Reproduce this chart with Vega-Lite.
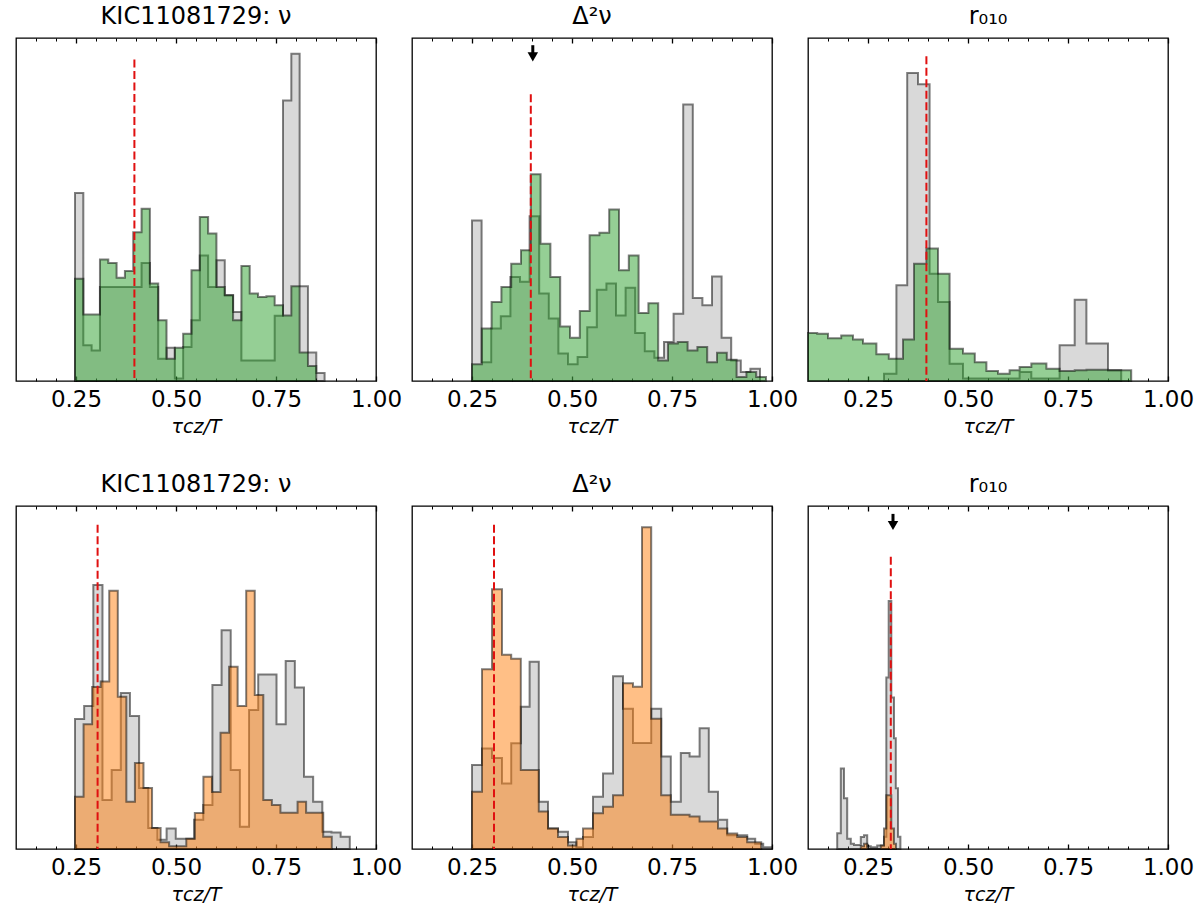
{
  "$schema": "https://vega.github.io/schema/vega-lite/v6.json",
  "description": "Step histograms of tau_cz/T for KIC11081729 with three observables, two rows",
  "padding": {"left": 15, "top": 4, "right": 10, "bottom": 2},
  "data": {
    "values": [
      {"p":1,"s":"ref","x":0.2475,"y":0.548},{"p":1,"s":"ref","x":0.2683,"y":0.104},{"p":1,"s":"ref","x":0.2891,"y":0.089},
      {"p":1,"s":"ref","x":0.3099,"y":0.274},{"p":1,"s":"ref","x":0.3307,"y":0.274},{"p":1,"s":"ref","x":0.3515,"y":0.274},
      {"p":1,"s":"ref","x":0.3723,"y":0.274},{"p":1,"s":"ref","x":0.3931,"y":0.274},{"p":1,"s":"ref","x":0.4139,"y":0.344},
      {"p":1,"s":"ref","x":0.4347,"y":0.274},{"p":1,"s":"ref","x":0.4555,"y":0.065},{"p":1,"s":"ref","x":0.4763,"y":0.097},
      {"p":1,"s":"ref","x":0.4971,"y":0.007},{"p":1,"s":"ref","x":0.5179,"y":0.099},{"p":1,"s":"ref","x":0.5387,"y":0.177},
      {"p":1,"s":"ref","x":0.5595,"y":0.366},{"p":1,"s":"ref","x":0.5803,"y":0.274},{"p":1,"s":"ref","x":0.6011,"y":0.352},
      {"p":1,"s":"ref","x":0.6219,"y":0.250},{"p":1,"s":"ref","x":0.6427,"y":0.201},{"p":1,"s":"ref","x":0.6635,"y":0.060},
      {"p":1,"s":"ref","x":0.6843,"y":0.060},{"p":1,"s":"ref","x":0.7051,"y":0.060},{"p":1,"s":"ref","x":0.7259,"y":0.060},
      {"p":1,"s":"ref","x":0.7467,"y":0.190},{"p":1,"s":"ref","x":0.7675,"y":0.818},{"p":1,"s":"ref","x":0.7883,"y":0.954},
      {"p":1,"s":"ref","x":0.8091,"y":0.276},{"p":1,"s":"ref","x":0.8299,"y":0.083},{"p":1,"s":"ref","x":0.8507,"y":0.023},
      {"p":1,"s":"ref","x":0.8715,"y":0},

      {"p":1,"s":"green","x":0.2475,"y":0.298},{"p":1,"s":"green","x":0.2683,"y":0.194},{"p":1,"s":"green","x":0.2891,"y":0.194},
      {"p":1,"s":"green","x":0.3099,"y":0.354},{"p":1,"s":"green","x":0.3307,"y":0.344},{"p":1,"s":"green","x":0.3515,"y":0.301},
      {"p":1,"s":"green","x":0.3723,"y":0.321},{"p":1,"s":"green","x":0.3931,"y":0.434},{"p":1,"s":"green","x":0.4139,"y":0.502},
      {"p":1,"s":"green","x":0.4347,"y":0.284},{"p":1,"s":"green","x":0.4555,"y":0.177},{"p":1,"s":"green","x":0.4763,"y":0.065},
      {"p":1,"s":"green","x":0.4971,"y":0.097},{"p":1,"s":"green","x":0.5179,"y":0.138},{"p":1,"s":"green","x":0.5387,"y":0.323},
      {"p":1,"s":"green","x":0.5595,"y":0.478},{"p":1,"s":"green","x":0.5803,"y":0.430},{"p":1,"s":"green","x":0.6011,"y":0.274},
      {"p":1,"s":"green","x":0.6219,"y":0.250},{"p":1,"s":"green","x":0.6427,"y":0.177},{"p":1,"s":"green","x":0.6635,"y":0.335},
      {"p":1,"s":"green","x":0.6843,"y":0.255},{"p":1,"s":"green","x":0.7051,"y":0.245},{"p":1,"s":"green","x":0.7259,"y":0.247},
      {"p":1,"s":"green","x":0.7467,"y":0.221},{"p":1,"s":"green","x":0.7675,"y":0.191},{"p":1,"s":"green","x":0.7883,"y":0.276},
      {"p":1,"s":"green","x":0.8091,"y":0.083},{"p":1,"s":"green","x":0.8299,"y":0.044},{"p":1,"s":"green","x":0.8507,"y":0},

      {"p":2,"s":"ref","x":0.250,"y":0.468},{"p":2,"s":"ref","x":0.274,"y":0.055},{"p":2,"s":"ref","x":0.298,"y":0.153},
      {"p":2,"s":"ref","x":0.322,"y":0.189},{"p":2,"s":"ref","x":0.346,"y":0.303},{"p":2,"s":"ref","x":0.370,"y":0.289},
      {"p":2,"s":"ref","x":0.394,"y":0.480},{"p":2,"s":"ref","x":0.418,"y":0.255},{"p":2,"s":"ref","x":0.442,"y":0.182},
      {"p":2,"s":"ref","x":0.466,"y":0.080},{"p":2,"s":"ref","x":0.490,"y":0.049},{"p":2,"s":"ref","x":0.514,"y":0.070},
      {"p":2,"s":"ref","x":0.538,"y":0.157},{"p":2,"s":"ref","x":0.562,"y":0.266},{"p":2,"s":"ref","x":0.586,"y":0.284},
      {"p":2,"s":"ref","x":0.610,"y":0.191},{"p":2,"s":"ref","x":0.634,"y":0.272},{"p":2,"s":"ref","x":0.658,"y":0.140},
      {"p":2,"s":"ref","x":0.682,"y":0.087},{"p":2,"s":"ref","x":0.706,"y":0.068},{"p":2,"s":"ref","x":0.730,"y":0.114},
      {"p":2,"s":"ref","x":0.754,"y":0.196},{"p":2,"s":"ref","x":0.778,"y":0.806},{"p":2,"s":"ref","x":0.802,"y":0.242},
      {"p":2,"s":"ref","x":0.826,"y":0.221},{"p":2,"s":"ref","x":0.850,"y":0.305},{"p":2,"s":"ref","x":0.874,"y":0.126},
      {"p":2,"s":"ref","x":0.898,"y":0.060},{"p":2,"s":"ref","x":0.922,"y":0.026},{"p":2,"s":"ref","x":0.946,"y":0.036},
      {"p":2,"s":"ref","x":0.970,"y":0},

      {"p":2,"s":"green","x":0.2500,"y":0.049},{"p":2,"s":"green","x":0.2745,"y":0.153},{"p":2,"s":"green","x":0.2990,"y":0.230},
      {"p":2,"s":"green","x":0.3235,"y":0.274},{"p":2,"s":"green","x":0.3480,"y":0.342},{"p":2,"s":"green","x":0.3725,"y":0.381},
      {"p":2,"s":"green","x":0.3970,"y":0.603},{"p":2,"s":"green","x":0.4215,"y":0.400},{"p":2,"s":"green","x":0.4460,"y":0.303},
      {"p":2,"s":"green","x":0.4705,"y":0.159},{"p":2,"s":"green","x":0.4950,"y":0.126},{"p":2,"s":"green","x":0.5195,"y":0.204},
      {"p":2,"s":"green","x":0.5440,"y":0.425},{"p":2,"s":"green","x":0.5685,"y":0.432},{"p":2,"s":"green","x":0.5930,"y":0.500},
      {"p":2,"s":"green","x":0.6175,"y":0.323},{"p":2,"s":"green","x":0.6420,"y":0.366},{"p":2,"s":"green","x":0.6665,"y":0.198},
      {"p":2,"s":"green","x":0.6910,"y":0.227},{"p":2,"s":"green","x":0.7155,"y":0.060},{"p":2,"s":"green","x":0.7400,"y":0.109},
      {"p":2,"s":"green","x":0.7645,"y":0.114},{"p":2,"s":"green","x":0.7890,"y":0.089},{"p":2,"s":"green","x":0.8135,"y":0.099},
      {"p":2,"s":"green","x":0.8380,"y":0.055},{"p":2,"s":"green","x":0.8625,"y":0.082},{"p":2,"s":"green","x":0.8870,"y":0.062},
      {"p":2,"s":"green","x":0.9115,"y":0.012},{"p":2,"s":"green","x":0.9360,"y":0.026},{"p":2,"s":"green","x":0.9605,"y":0.012},
      {"p":2,"s":"green","x":0.9850,"y":0},

      {"p":3,"s":"ref","x":0.290,"y":0.021},{"p":3,"s":"ref","x":0.321,"y":0.279},{"p":3,"s":"ref","x":0.348,"y":0.898},
      {"p":3,"s":"ref","x":0.375,"y":0.865},{"p":3,"s":"ref","x":0.404,"y":0.313},{"p":3,"s":"ref","x":0.425,"y":0.230},
      {"p":3,"s":"ref","x":0.454,"y":0.050},{"p":3,"s":"ref","x":0.4875,"y":0.007},{"p":3,"s":"ref","x":0.629,"y":0.026},
      {"p":3,"s":"ref","x":0.6583,"y":0.007},{"p":3,"s":"ref","x":0.729,"y":0.104},{"p":3,"s":"ref","x":0.7667,"y":0.237},
      {"p":3,"s":"ref","x":0.796,"y":0.109},{"p":3,"s":"ref","x":0.850,"y":0.031},{"p":3,"s":"ref","x":0.883,"y":0},

      {"p":3,"s":"green","x":0.100,"y":0.140},{"p":3,"s":"green","x":0.123,"y":0.138},{"p":3,"s":"green","x":0.150,"y":0.125},
      {"p":3,"s":"green","x":0.183,"y":0.133},{"p":3,"s":"green","x":0.2125,"y":0.121},{"p":3,"s":"green","x":0.2375,"y":0.109},
      {"p":3,"s":"green","x":0.271,"y":0.078},{"p":3,"s":"green","x":0.302,"y":0.065},{"p":3,"s":"green","x":0.3375,"y":0.121},
      {"p":3,"s":"green","x":0.365,"y":0.342},{"p":3,"s":"green","x":0.396,"y":0.386},{"p":3,"s":"green","x":0.425,"y":0.313},
      {"p":3,"s":"green","x":0.454,"y":0.094},{"p":3,"s":"green","x":0.4875,"y":0.080},{"p":3,"s":"green","x":0.517,"y":0.055},
      {"p":3,"s":"green","x":0.546,"y":0.029},{"p":3,"s":"green","x":0.575,"y":0.021},{"p":3,"s":"green","x":0.604,"y":0.031},
      {"p":3,"s":"green","x":0.629,"y":0.041},{"p":3,"s":"green","x":0.6583,"y":0.051},{"p":3,"s":"green","x":0.696,"y":0.036},
      {"p":3,"s":"green","x":0.729,"y":0.029},{"p":3,"s":"green","x":0.7667,"y":0.031},{"p":3,"s":"green","x":0.796,"y":0.033},
      {"p":3,"s":"green","x":0.850,"y":0.031},{"p":3,"s":"green","x":0.908,"y":0},

      {"p":4,"s":"ref","x":0.2475,"y":0.379},{"p":4,"s":"ref","x":0.2704,"y":0.417},{"p":4,"s":"ref","x":0.2933,"y":0.770},
      {"p":4,"s":"ref","x":0.3162,"y":0.143},{"p":4,"s":"ref","x":0.3391,"y":0.230},{"p":4,"s":"ref","x":0.3620,"y":0.455},
      {"p":4,"s":"ref","x":0.3849,"y":0.388},{"p":4,"s":"ref","x":0.4078,"y":0.178},{"p":4,"s":"ref","x":0.4307,"y":0.061},
      {"p":4,"s":"ref","x":0.4536,"y":0.027},{"p":4,"s":"ref","x":0.4765,"y":0.060},{"p":4,"s":"ref","x":0.4994,"y":0.030},
      {"p":4,"s":"ref","x":0.5223,"y":0.030},{"p":4,"s":"ref","x":0.5452,"y":0.085},{"p":4,"s":"ref","x":0.5681,"y":0.128},
      {"p":4,"s":"ref","x":0.5910,"y":0.478},{"p":4,"s":"ref","x":0.6139,"y":0.638},{"p":4,"s":"ref","x":0.6368,"y":0.230},
      {"p":4,"s":"ref","x":0.6597,"y":0.065},{"p":4,"s":"ref","x":0.6826,"y":0.405},{"p":4,"s":"ref","x":0.7055,"y":0.509},
      {"p":4,"s":"ref","x":0.7284,"y":0.509},{"p":4,"s":"ref","x":0.7513,"y":0.364},{"p":4,"s":"ref","x":0.7742,"y":0.548},
      {"p":4,"s":"ref","x":0.7971,"y":0.471},{"p":4,"s":"ref","x":0.8200,"y":0.211},{"p":4,"s":"ref","x":0.8429,"y":0.138},
      {"p":4,"s":"ref","x":0.8658,"y":0.050},{"p":4,"s":"ref","x":0.8887,"y":0.048},{"p":4,"s":"ref","x":0.9116,"y":0.036},
      {"p":4,"s":"ref","x":0.9345,"y":0},

      {"p":4,"s":"orange","x":0.2475,"y":0.152},{"p":4,"s":"orange","x":0.2689,"y":0.364},{"p":4,"s":"orange","x":0.2903,"y":0.472},
      {"p":4,"s":"orange","x":0.3117,"y":0.488},{"p":4,"s":"orange","x":0.3331,"y":0.753},{"p":4,"s":"orange","x":0.3545,"y":0.444},
      {"p":4,"s":"orange","x":0.3759,"y":0.138},{"p":4,"s":"orange","x":0.3973,"y":0.251},{"p":4,"s":"orange","x":0.4187,"y":0.178},
      {"p":4,"s":"orange","x":0.4401,"y":0.061},{"p":4,"s":"orange","x":0.4615,"y":0.020},{"p":4,"s":"orange","x":0.4829,"y":0.008},
      {"p":4,"s":"orange","x":0.5043,"y":0.008},{"p":4,"s":"orange","x":0.5257,"y":0.030},{"p":4,"s":"orange","x":0.5471,"y":0.105},
      {"p":4,"s":"orange","x":0.5685,"y":0.211},{"p":4,"s":"orange","x":0.5899,"y":0.166},{"p":4,"s":"orange","x":0.6113,"y":0.339},
      {"p":4,"s":"orange","x":0.6327,"y":0.531},{"p":4,"s":"orange","x":0.6541,"y":0.417},{"p":4,"s":"orange","x":0.6755,"y":0.753},
      {"p":4,"s":"orange","x":0.6969,"y":0.449},{"p":4,"s":"orange","x":0.7183,"y":0.143},{"p":4,"s":"orange","x":0.7397,"y":0.128},
      {"p":4,"s":"orange","x":0.7611,"y":0.106},{"p":4,"s":"orange","x":0.7825,"y":0.106},{"p":4,"s":"orange","x":0.8039,"y":0.138},
      {"p":4,"s":"orange","x":0.8253,"y":0.106},{"p":4,"s":"orange","x":0.8467,"y":0.106},{"p":4,"s":"orange","x":0.8681,"y":0.036},
      {"p":4,"s":"orange","x":0.8895,"y":0},

      {"p":5,"s":"ref","x":0.250,"y":0.245},{"p":5,"s":"ref","x":0.275,"y":0.293},{"p":5,"s":"ref","x":0.300,"y":0.265},
      {"p":5,"s":"ref","x":0.325,"y":0.191},{"p":5,"s":"ref","x":0.348,"y":0.308},{"p":5,"s":"ref","x":0.372,"y":0.415},
      {"p":5,"s":"ref","x":0.394,"y":0.546},{"p":5,"s":"ref","x":0.417,"y":0.138},{"p":5,"s":"ref","x":0.440,"y":0.060},
      {"p":5,"s":"ref","x":0.465,"y":0.050},{"p":5,"s":"ref","x":0.490,"y":0.020},{"p":5,"s":"ref","x":0.511,"y":0.005},
      {"p":5,"s":"ref","x":0.5275,"y":0.035},{"p":5,"s":"ref","x":0.5525,"y":0.152},{"p":5,"s":"ref","x":0.5775,"y":0.220},
      {"p":5,"s":"ref","x":0.6025,"y":0.504},{"p":5,"s":"ref","x":0.6275,"y":0.409},{"p":5,"s":"ref","x":0.6525,"y":0.309},
      {"p":5,"s":"ref","x":0.675,"y":0.309},{"p":5,"s":"ref","x":0.698,"y":0.409},{"p":5,"s":"ref","x":0.723,"y":0.270},
      {"p":5,"s":"ref","x":0.747,"y":0.138},{"p":5,"s":"ref","x":0.772,"y":0.280},{"p":5,"s":"ref","x":0.794,"y":0.270},
      {"p":5,"s":"ref","x":0.819,"y":0.352},{"p":5,"s":"ref","x":0.842,"y":0.167},{"p":5,"s":"ref","x":0.865,"y":0.085},
      {"p":5,"s":"ref","x":0.888,"y":0.040},{"p":5,"s":"ref","x":0.913,"y":0.040},{"p":5,"s":"ref","x":0.938,"y":0.030},
      {"p":5,"s":"ref","x":0.958,"y":0.015},{"p":5,"s":"ref","x":0.978,"y":0.005},{"p":5,"s":"ref","x":0.998,"y":0},

      {"p":5,"s":"orange","x":0.250,"y":0.167},{"p":5,"s":"orange","x":0.275,"y":0.524},{"p":5,"s":"orange","x":0.300,"y":0.757},
      {"p":5,"s":"orange","x":0.325,"y":0.566},{"p":5,"s":"orange","x":0.348,"y":0.555},{"p":5,"s":"orange","x":0.372,"y":0.230},
      {"p":5,"s":"orange","x":0.394,"y":0.230},{"p":5,"s":"orange","x":0.417,"y":0.109},{"p":5,"s":"orange","x":0.440,"y":0.060},
      {"p":5,"s":"orange","x":0.465,"y":0.035},{"p":5,"s":"orange","x":0.490,"y":0.010},{"p":5,"s":"orange","x":0.511,"y":0.030},
      {"p":5,"s":"orange","x":0.5275,"y":0.060},{"p":5,"s":"orange","x":0.5525,"y":0.104},{"p":5,"s":"orange","x":0.5775,"y":0.123},
      {"p":5,"s":"orange","x":0.6025,"y":0.157},{"p":5,"s":"orange","x":0.6275,"y":0.483},{"p":5,"s":"orange","x":0.6525,"y":0.473},
      {"p":5,"s":"orange","x":0.675,"y":0.938},{"p":5,"s":"orange","x":0.698,"y":0.380},{"p":5,"s":"orange","x":0.723,"y":0.157},
      {"p":5,"s":"orange","x":0.747,"y":0.100},{"p":5,"s":"orange","x":0.772,"y":0.100},{"p":5,"s":"orange","x":0.794,"y":0.095},
      {"p":5,"s":"orange","x":0.819,"y":0.080},{"p":5,"s":"orange","x":0.842,"y":0.080},{"p":5,"s":"orange","x":0.865,"y":0.060},
      {"p":5,"s":"orange","x":0.888,"y":0.045},{"p":5,"s":"orange","x":0.913,"y":0.035},{"p":5,"s":"orange","x":0.938,"y":0.020},
      {"p":5,"s":"orange","x":0.973,"y":0},

      {"p":6,"s":"ref","x":0.173,"y":0.046},{"p":6,"s":"ref","x":0.182,"y":0.235},{"p":6,"s":"ref","x":0.190,"y":0.148},
      {"p":6,"s":"ref","x":0.198,"y":0.030},{"p":6,"s":"ref","x":0.207,"y":0.015},{"p":6,"s":"ref","x":0.215,"y":0.012},
      {"p":6,"s":"ref","x":0.223,"y":0.012},{"p":6,"s":"ref","x":0.232,"y":0.035},{"p":6,"s":"ref","x":0.240,"y":0.040},
      {"p":6,"s":"ref","x":0.248,"y":0.008},{"p":6,"s":"ref","x":0.257,"y":0.005},{"p":6,"s":"ref","x":0.265,"y":0.005},
      {"p":6,"s":"ref","x":0.273,"y":0.010},{"p":6,"s":"ref","x":0.282,"y":0.010},{"p":6,"s":"ref","x":0.290,"y":0.036},
      {"p":6,"s":"ref","x":0.2958,"y":0.500},{"p":6,"s":"ref","x":0.3017,"y":0.723},{"p":6,"s":"ref","x":0.3083,"y":0.442},
      {"p":6,"s":"ref","x":0.315,"y":0.323},{"p":6,"s":"ref","x":0.3195,"y":0.177},{"p":6,"s":"ref","x":0.325,"y":0.036},
      {"p":6,"s":"ref","x":0.331,"y":0},

      {"p":6,"s":"orange","x":0.232,"y":0.008},{"p":6,"s":"orange","x":0.240,"y":0.015},{"p":6,"s":"orange","x":0.248,"y":0},
      {"p":6,"s":"orange","x":0.282,"y":0.010},{"p":6,"s":"orange","x":0.290,"y":0.060},{"p":6,"s":"orange","x":0.2958,"y":0.157},
      {"p":6,"s":"orange","x":0.3017,"y":0.157},{"p":6,"s":"orange","x":0.3083,"y":0.060},{"p":6,"s":"orange","x":0.315,"y":0.015},
      {"p":6,"s":"orange","x":0.320,"y":0},

      {"p":1,"s":"vline","x":0.396,"y":0.937},
      {"p":2,"s":"vline","x":0.397,"y":0.836},
      {"p":3,"s":"vline","x":0.396,"y":0.947},
      {"p":4,"s":"vline","x":0.304,"y":0.945},
      {"p":5,"s":"vline","x":0.305,"y":0.945},
      {"p":6,"s":"vline","x":0.307,"y":0.852},

      {"p":2,"s":"arrow","x":0.402,"y":0.979,"y2":0.945},
      {"p":6,"s":"arrow","x":0.3125,"y":0.977,"y2":0.943}
    ]
  },
  "facet": {
    "field": "p",
    "type": "ordinal",
    "title": null,
    "header": {
      "labelExpr": "datum.value == 1 || datum.value == 4 ? 'KIC11081729: ν' : (datum.value == 2 || datum.value == 5 ? 'Δ²ν' : 'r₀₁₀')",
      "labelFont": "DejaVu Sans",
      "labelFontSize": 24,
      "labelColor": "black",
      "labelPadding": 8
    }
  },
  "columns": 3,
  "bounds": "flush",
  "spacing": {"row": 125, "column": 36},
  "resolve": {"axis": {"x": "independent"}},
  "spec": {
    "width": 360,
    "height": 343,
    "layer": [
      {
        "transform": [{"filter": "datum.s == 'ref'"}],
        "mark": {"type": "area", "interpolate": "step-after", "fill": "#808080", "fillOpacity": 0.3, "stroke": "black", "strokeOpacity": 0.5, "strokeWidth": 2},
        "encoding": {
          "x": {
            "field": "x", "type": "quantitative",
            "scale": {"domain": [0.1, 1.0], "nice": false, "zero": false},
            "axis": {
              "orient": "bottom", "values": [0.25, 0.5, 0.75, 1.0], "format": ".2f",
              "tickSize": -5, "tickWidth": 1.3, "tickColor": "black",
              "labelFont": "DejaVu Sans", "labelFontSize": 23, "labelColor": "black",
              "labelPadding": 12, "labelFlush": false, "labelOverlap": false, "labelBound": false,
              "title": "τcz/T", "titleFont": "DejaVu Sans", "titleFontSize": 19, "titleFontStyle": "italic",
              "titleFontWeight": "normal", "titleColor": "black", "titlePadding": 6,
              "domain": false, "grid": false
            }
          },
          "y": {"field": "y", "type": "quantitative", "scale": {"domain": [0, 1], "nice": false}, "axis": null}
        }
      },
      {
        "transform": [{"filter": "datum.s == 'green' || datum.s == 'orange'"}],
        "mark": {"type": "area", "interpolate": "step-after", "fillOpacity": 0.5, "stroke": "black", "strokeOpacity": 0.5, "strokeWidth": 2},
        "encoding": {
          "x": {
            "field": "x", "type": "quantitative",
            "axis": {"orient": "top", "values": [0.25, 0.5, 0.75, 1.0], "labels": false, "tickSize": -5, "tickWidth": 1.3, "tickColor": "black", "title": null, "domain": false, "grid": false}
          },
          "y": {"field": "y", "type": "quantitative"},
          "fill": {"field": "s", "type": "nominal", "scale": {"domain": ["green", "orange"], "range": ["#2ca02c", "#ff7f0e"]}, "legend": null}
        }
      },
      {
        "transform": [{"filter": "datum.s == 'vline'"}],
        "mark": {"type": "rule", "color": "#e01010", "strokeWidth": 2, "strokeDash": [8, 3.5]},
        "encoding": {
          "x": {
            "field": "x", "type": "quantitative",
            "axis": {"orient": "bottom", "values": [0.15, 0.2, 0.3, 0.35, 0.4, 0.45, 0.55, 0.6, 0.65, 0.7, 0.8, 0.85, 0.9, 0.95], "labels": false, "tickSize": -3, "tickWidth": 1, "tickColor": "black", "title": null, "domain": false, "grid": false}
          },
          "y": {"field": "y", "type": "quantitative"},
          "y2": {"datum": 0}
        }
      },
      {
        "transform": [{"filter": "datum.s == 'arrow'"}],
        "mark": {"type": "rule", "color": "black", "strokeWidth": 3},
        "encoding": {
          "x": {
            "field": "x", "type": "quantitative",
            "axis": {"orient": "top", "values": [0.15, 0.2, 0.3, 0.35, 0.4, 0.45, 0.55, 0.6, 0.65, 0.7, 0.8, 0.85, 0.9, 0.95], "labels": false, "tickSize": -3, "tickWidth": 1, "tickColor": "black", "title": null, "domain": false, "grid": false}
          },
          "y": {"field": "y", "type": "quantitative"},
          "y2": {"field": "y2"}
        }
      },
      {
        "transform": [{"filter": "datum.s == 'arrow'"}],
        "mark": {"type": "point", "shape": "triangle-down", "filled": true, "color": "black", "opacity": 1, "size": 110},
        "encoding": {
          "x": {"field": "x", "type": "quantitative", "axis": null},
          "y": {"field": "y2", "type": "quantitative"}
        }
      }
    ],
    "resolve": {"axis": {"x": "independent"}}
  },
  "config": {
    "font": "DejaVu Sans",
    "view": {"stroke": "black", "strokeWidth": 1.3}
  }
}
